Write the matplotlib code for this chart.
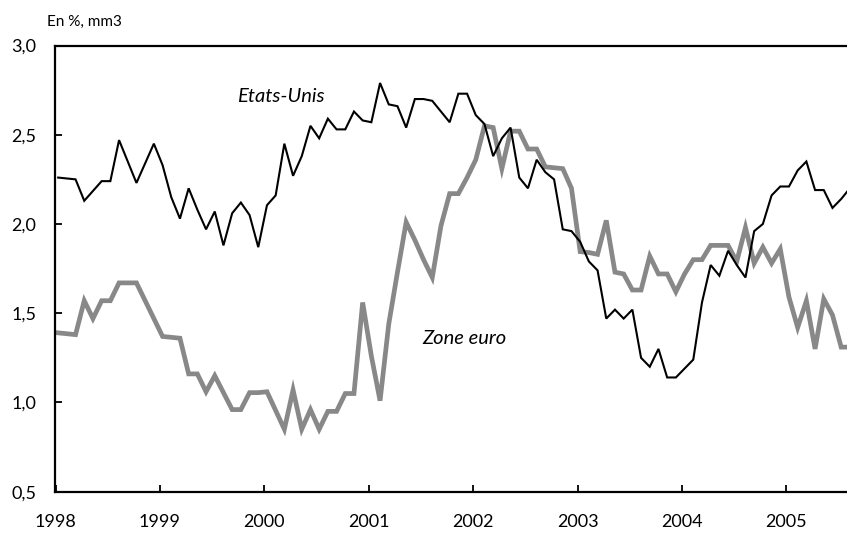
import numpy as np
import matplotlib.pyplot as plt

# monthly series, Jan 1998 onwards (last point runs past the right edge)
etats_unis = [2.26, 2.255, 2.25, 2.13, 2.185, 2.24, 2.24, 2.47, 2.35, 2.23, 2.34, 2.45,
              2.33, 2.15, 2.03, 2.20, 2.08, 1.97, 2.07, 1.88, 2.06, 2.12, 2.05, 1.87,
              2.105, 2.16, 2.45, 2.27, 2.38, 2.55, 2.48, 2.59, 2.53, 2.53, 2.63, 2.58,
              2.57, 2.79, 2.67, 2.66, 2.54, 2.70, 2.70, 2.69, 2.63, 2.57, 2.73, 2.73,
              2.61, 2.56, 2.38, 2.48, 2.54, 2.26, 2.20, 2.36, 2.29, 2.25, 1.97, 1.96,
              1.90, 1.79, 1.74, 1.47, 1.52, 1.47, 1.52, 1.25, 1.20, 1.30, 1.14, 1.14,
              1.19, 1.24, 1.56, 1.77, 1.71, 1.85, 1.77, 1.70, 1.96, 2.00, 2.16, 2.21,
              2.21, 2.30, 2.35, 2.19, 2.19, 2.09, 2.14, 2.20]
zone_euro = [1.39, 1.385, 1.38, 1.57, 1.47, 1.57, 1.57, 1.67, 1.67, 1.67, 1.57, 1.47,
             1.37, 1.365, 1.36, 1.16, 1.16, 1.06, 1.15, 1.055, 0.96, 0.96, 1.055, 1.055,
             1.06, 0.955, 0.85, 1.07, 0.85, 0.96, 0.85, 0.95, 0.95, 1.05, 1.05, 1.56,
             1.26, 1.01, 1.44, 1.73, 2.01, 1.91, 1.80, 1.70, 1.99, 2.17, 2.17, 2.26,
             2.36, 2.55, 2.54, 2.31, 2.52, 2.52, 2.42, 2.42, 2.32, 2.315, 2.31, 2.20,
             1.845, 1.84, 1.83, 2.02, 1.73, 1.72, 1.63, 1.63, 1.82, 1.72, 1.72, 1.62,
             1.72, 1.80, 1.80, 1.88, 1.88, 1.88, 1.79, 1.98, 1.78, 1.87, 1.78, 1.86,
             1.59, 1.42, 1.57, 1.30, 1.58, 1.49, 1.31, 1.31]
years = list(range(1998, 2006))
yticks = [0.5, 1.0, 1.5, 2.0, 2.5, 3.0]

x = 1998 + (np.arange(len(etats_unis)) + 0.3) / 12

plt.rcParams['font.family'] = ['Lato', 'DejaVu Sans']

fig = plt.figure(figsize=(8.47, 5.33), dpi=100)
ax = fig.add_axes([54.5 / 847, 1 - 491.7 / 533, (846.5 - 54.5) / 847, (491.7 - 45.5) / 533])

ax.plot(x, zone_euro, color='#888888', lw=3.4, solid_joinstyle='miter')
ax.plot(x, etats_unis, color='black', lw=1.5, solid_joinstyle='miter')

ax.set_xlim(1997.99, 2005.576)
ax.set_ylim(0.5, 3.0)
ax.set_xticks(years)
ax.set_xticklabels([str(y) for y in years])
ax.set_yticks(yticks)
ax.set_yticklabels([f"{v:.1f}".replace('.', ',') for v in yticks])

for side in ['left', 'bottom', 'top']:
    ax.spines[side].set_linewidth(1.6)
ax.spines['right'].set_visible(False)
ax.tick_params(direction='in', length=5, width=1.3, labelsize=13)
ax.tick_params(axis='y', pad=13)
ax.tick_params(axis='x', labelsize=13, pad=16)

fig.text(281 / 847, 1 - 96 / 533, 'Etats-Unis', fontsize=14.5, style='italic',
         ha='center', va='center')
fig.text(464 / 847, 1 - 339 / 533, 'Zone euro', fontsize=14.5, style='italic',
         ha='center', va='center')
fig.text(47 / 847, 1 - 22 / 533, 'En %, mm3', fontsize=11, ha='left', va='center')

fig.savefig('out.png', dpi=100)
